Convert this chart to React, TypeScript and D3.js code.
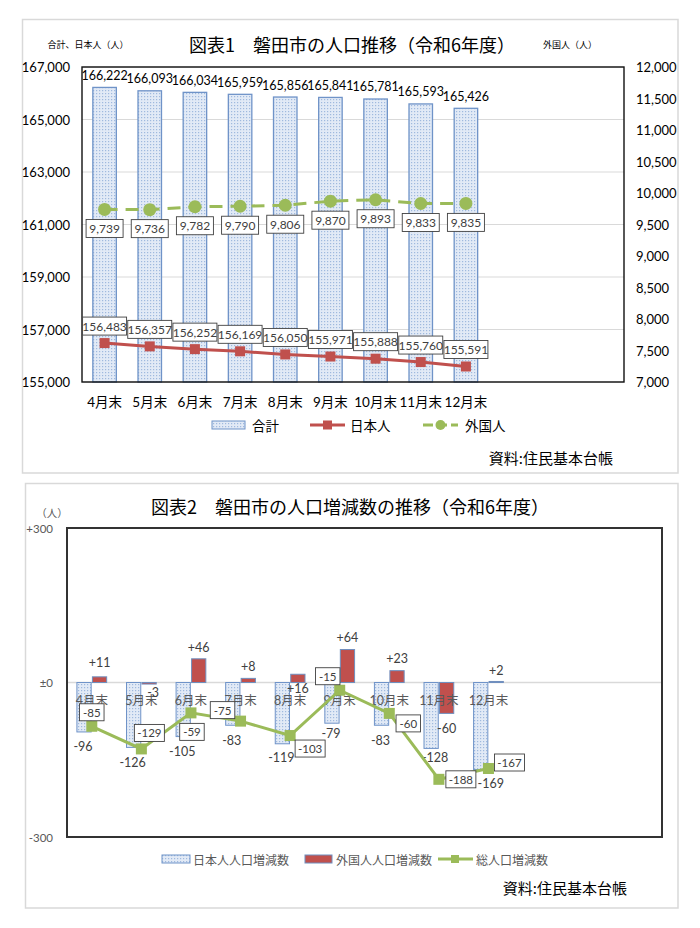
import React from "react";
import * as d3 from "d3";

// ---------- data ----------
const fiscalMonths = ["4月末", "5月末", "6月末", "7月末", "8月末", "9月末", "10月末", "11月末", "12月末", "1月末", "2月末", "3月末"];
const categories = ["4月末", "5月末", "6月末", "7月末", "8月末", "9月末", "10月末", "11月末", "12月末"];

const totalPop = [166222, 166093, 166034, 165959, 165856, 165841, 165781, 165593, 165426];
const japanesePop = [156483, 156357, 156252, 156169, 156050, 155971, 155888, 155760, 155591];
const foreignPop = [9739, 9736, 9782, 9790, 9806, 9870, 9893, 9833, 9835];

const leftTicks = [155000, 157000, 159000, 161000, 163000, 165000, 167000];
const rightTicks = [7000, 7500, 8000, 8500, 9000, 9500, 10000, 10500, 11000, 11500, 12000];

const japaneseChange = [-96, -126, -105, -83, -119, -79, -83, -128, -169];
const foreignChange = [11, -3, 46, 8, 16, 64, 23, -60, 2];
const totalChange = [-85, -129, -59, -75, -103, -15, -60, -188, -167];

const changeTicks = [-300, 0, 300];
const changeTickLabels = ["-300", "±0", "+300"];

// label placement tweaks (layout only)
const totalLabelOffsets = [[0, -14], [8, -16], [1, 19], [-18, -11], [20, 13], [-12, -14], [19, 10], [22, 0], [21, -6]];
const jpLabelOffsets = [[-1, 15], [-1, 15], [-1, 15], [-1, 15], [-1, 14], [-1, 10], [-1, 15], [4, 9], [10, 14]];
const fgLabelOffsets = [[0, -14], [4, 8], [0, -11], [0, -12], [0, 14], [0, -12], [0, -12], [0, 15], [0, -11]];

const FONT = "Lato, 'Noto Sans CJK JP', sans-serif";
const JP = "'Noto Sans CJK JP', sans-serif";
const RED = "#c0504d";
const GREEN = "#9bbb59";
const BLUE = "#4f81bd";
const fmt = d3.format(",");
const sfmt = (v: number) => (v > 0 ? "+" + v : String(v));

function Chart1() {
  const x = d3.scaleBand<string>().domain(fiscalMonths).range([82, 624]).paddingInner(0.48).paddingOuter(0.24);
  const yL = d3.scaleLinear().domain([155000, 167000]).range([382, 67]);
  const yR = d3.scaleLinear().domain([7000, 12000]).range([382, 67]);
  const cx = (c: string) => (x(c) as number) + x.bandwidth() / 2;
  const redLine = d3.line<number>().x((_, i) => cx(categories[i])).y((d) => yL(d));
  const greenLine = d3.line<number>().x((_, i) => cx(categories[i])).y((d) => yR(d));
  return (
    <g>
      <rect x={22.5} y={19.5} width={655.5} height={453.5} fill="#fff" stroke="#d9d9d9" strokeWidth={1.5} />
      <text x={352} y={44} textAnchor="middle" dominantBaseline="central" fontFamily={JP} fontSize={18} fill="#000">
        図表1　磐田市の人口推移（令和6年度）
      </text>
      <text x={88} y={44} textAnchor="middle" dominantBaseline="central" fontFamily={JP} fontSize={9} fill="#000">
        合計、日本人（人）
      </text>
      <text x={570} y={44} textAnchor="middle" dominantBaseline="central" fontFamily={JP} fontSize={9} fill="#000">
        外国人（人）
      </text>
      {leftTicks.map((t) => (
        <line key={"g" + t} x1={82} x2={624} y1={yL(t)} y2={yL(t)} stroke="#d9d9d9" strokeWidth={1.2} />
      ))}
      {leftTicks.map((t) => (
        <text key={"l" + t} x={70} y={yL(t)} textAnchor="end" dominantBaseline="central" fontFamily={FONT} fontSize={13} fill="#000">
          {fmt(t)}
        </text>
      ))}
      {rightTicks.map((t) => (
        <text key={"r" + t} x={636} y={yR(t)} textAnchor="start" dominantBaseline="central" fontFamily={FONT} fontSize={13} fill="#000">
          {fmt(t)}
        </text>
      ))}
      {categories.map((c, i) => (
        <rect key={"b" + c} x={x(c)} y={yL(totalPop[i])} width={x.bandwidth()} height={382 - yL(totalPop[i])}
          fill="url(#dots)" stroke="#6f93c8" strokeWidth={1.3} />
      ))}
      {categories.map((c, i) => (
        <text key={"bl" + c} x={cx(c)} y={yL(totalPop[i]) - 12} textAnchor="middle" dominantBaseline="central" fontFamily={FONT} fontSize={12.5} fill="#000">
          {fmt(totalPop[i])}
        </text>
      ))}
      <rect x={82} y={67} width={542} height={315} fill="none" stroke="#111" strokeWidth={1.4} />
      {/* Japanese line */}
      <path d={redLine(japanesePop) || ""} fill="none" stroke={RED} strokeWidth={3} />
      {categories.map((c, i) => (
        <rect key={"rm" + c} x={cx(c) - 5} y={yL(japanesePop[i]) - 5} width={10} height={10} fill={RED} />
      ))}
      {categories.map((c, i) => (
        <g key={"rl" + c}>
          <rect x={cx(c) - 22} y={yL(japanesePop[i]) - 26} width={44} height={18} fill="#fff" stroke="#404040" strokeWidth={0.9} />
          <text x={cx(c)} y={yL(japanesePop[i]) - 17} textAnchor="middle" dominantBaseline="central" fontFamily={FONT} fontSize={12} fill="#404040">
            {fmt(japanesePop[i])}
          </text>
        </g>
      ))}
      {/* Foreign line */}
      <path d={greenLine(foreignPop) || ""} fill="none" stroke={GREEN} strokeWidth={3} strokeDasharray="13,8" />
      {categories.map((c, i) => (
        <circle key={"gm" + c} cx={cx(c)} cy={yR(foreignPop[i])} r={6.5} fill={GREEN} />
      ))}
      {categories.map((c, i) => (
        <g key={"gl" + c}>
          <rect x={cx(c) - 18.5} y={yR(foreignPop[i]) + 10} width={37} height={18} fill="#fff" stroke="#404040" strokeWidth={0.9} />
          <text x={cx(c)} y={yR(foreignPop[i]) + 19} textAnchor="middle" dominantBaseline="central" fontFamily={FONT} fontSize={12} fill="#404040">
            {fmt(foreignPop[i])}
          </text>
        </g>
      ))}
      {categories.map((c) => (
        <text key={"x" + c} x={cx(c)} y={402} textAnchor="middle" dominantBaseline="central" fontFamily={FONT} fontSize={13.5} fill="#000">
          {c}
        </text>
      ))}
      {/* legend */}
      <rect x={212} y={421} width={33} height={8} fill="url(#dots)" stroke="#6f93c8" strokeWidth={1} />
      <text x={252} y={425} dominantBaseline="central" fontFamily={JP} fontSize={13.5} fill="#000">合計</text>
      <line x1={310} x2={345} y1={425} y2={425} stroke={RED} strokeWidth={3} />
      <rect x={323} y={420.5} width={9} height={9} fill={RED} />
      <text x={350} y={425} dominantBaseline="central" fontFamily={JP} fontSize={13.5} fill="#000">日本人</text>
      <line x1={423} x2={458} y1={425} y2={425} stroke={GREEN} strokeWidth={3} strokeDasharray="10,4" />
      <circle cx={440.5} cy={425} r={5} fill={GREEN} />
      <text x={465} y={425} dominantBaseline="central" fontFamily={JP} fontSize={13.5} fill="#000">外国人</text>
      <text x={613} y={457} textAnchor="end" dominantBaseline="central" fontFamily={JP} fontSize={15} fill="#000">資料:住民基本台帳</text>
    </g>
  );
}

function Chart2() {
  const x = d3.scaleBand<string>().domain(fiscalMonths).range([67, 662]).paddingInner(0.4).paddingOuter(0.2);
  const sub = d3.scaleBand<string>().domain(["jp", "fg"]).range([0, x.bandwidth()]).paddingInner(0.08);
  const y = d3.scaleLinear().domain([-300, 300]).range([837, 528]);
  const cx = (c: string) => (x(c) as number) + x.bandwidth() / 2;
  const line = d3.line<number>().x((_, i) => cx(categories[i])).y((d) => y(d));
  const y0 = y(0);
  const gray = "#595959";
  return (
    <g>
      <rect x={25.5} y={483.5} width={652.5} height={424.5} fill="#fff" stroke="#d9d9d9" strokeWidth={1.5} />
      <text x={350} y={506} textAnchor="middle" dominantBaseline="central" fontFamily={JP} fontSize={18} fill="#000">
        図表2　磐田市の人口増減数の推移（令和6年度）
      </text>
      <text x={52} y={512} textAnchor="middle" dominantBaseline="central" fontFamily={JP} fontSize={10.5} fill={gray}>（人）</text>
      {changeTicks.map((t, i) => (
        <text key={"t" + t} x={53} y={y(t)} textAnchor="end" dominantBaseline="central" fontFamily={FONT} fontSize={11.5} fill={gray}>
          {changeTickLabels[i]}
        </text>
      ))}
      <line x1={67} x2={662} y1={y0} y2={y0} stroke="#d9d9d9" strokeWidth={1.3} />
      {categories.map((c, i) => {
        const v = japaneseChange[i];
        return (
          <rect key={"jb" + c} x={(x(c) as number) + (sub("jp") as number)} y={Math.min(y(v), y0)} width={sub.bandwidth()}
            height={Math.abs(y(v) - y0)} fill="url(#dots)" stroke="#6f93c8" strokeWidth={1} />
        );
      })}
      {categories.map((c, i) => {
        const v = foreignChange[i];
        return (
          <rect key={"fb" + c} x={(x(c) as number) + (sub("fg") as number)} y={Math.min(y(v), y0)} width={sub.bandwidth()}
            height={Math.abs(y(v) - y0)} fill={RED} stroke="#6f8fbf" strokeWidth={1} />
        );
      })}
      {categories.map((c) => (
        <text key={"cx" + c} x={cx(c)} y={700} textAnchor="middle" dominantBaseline="central" fontFamily={FONT} fontSize={12.5} fill={gray}>
          {c}
        </text>
      ))}
      {categories.map((c, i) => {
        const v = japaneseChange[i];
        const bx = (x(c) as number) + (sub("jp") as number) + sub.bandwidth() / 2;
        return (
          <text key={"jl" + c} x={bx + jpLabelOffsets[i][0]} y={y(v) + jpLabelOffsets[i][1]} textAnchor="middle" dominantBaseline="central"
            fontFamily={FONT} fontSize={12.5} fill="#404040">
            {sfmt(v)}
          </text>
        );
      })}
      {categories.map((c, i) => {
        const v = foreignChange[i];
        const bx = (x(c) as number) + (sub("fg") as number) + sub.bandwidth() / 2;
        return (
          <text key={"fl" + c} x={bx + fgLabelOffsets[i][0]} y={y(v) + fgLabelOffsets[i][1]} textAnchor="middle" dominantBaseline="central"
            fontFamily={FONT} fontSize={12.5} fill="#404040">
            {sfmt(v)}
          </text>
        );
      })}
      <path d={line(totalChange) || ""} fill="none" stroke={GREEN} strokeWidth={3} />
      {categories.map((c, i) => (
        <rect key={"tm" + c} x={cx(c) - 5.5} y={y(totalChange[i]) - 5.5} width={11} height={11} fill={GREEN} />
      ))}
      {categories.map((c, i) => {
        const label = sfmt(totalChange[i]);
        const w = label.length * 5.5 + 8;
        const lx = cx(c) + totalLabelOffsets[i][0];
        const ly = y(totalChange[i]) + totalLabelOffsets[i][1];
        return (
          <g key={"tl" + c}>
            <rect x={lx - w / 2} y={ly - 8.5} width={w} height={17} fill="#fff" stroke="#404040" strokeWidth={0.9} />
            <text x={lx} y={ly} textAnchor="middle" dominantBaseline="central" fontFamily={FONT} fontSize={11.5} fill="#404040">
              {label}
            </text>
          </g>
        );
      })}
      <rect x={67} y={528} width={595} height={309} fill="none" stroke="#333" strokeWidth={2} />
      {/* legend */}
      <rect x={162} y={855} width={28} height={8} fill="url(#dots)" stroke="#6f93c8" strokeWidth={1} />
      <text x={193} y={859} dominantBaseline="central" fontFamily={JP} fontSize={12} fill={gray}>日本人人口増減数</text>
      <rect x={305} y={855} width={27} height={8} fill={RED} stroke="#6f8fbf" strokeWidth={1} />
      <text x={336} y={859} dominantBaseline="central" fontFamily={JP} fontSize={12} fill={gray}>外国人人口増減数</text>
      <line x1={438} x2={473} y1={859} y2={859} stroke={GREEN} strokeWidth={3} />
      <rect x={451} y={855} width={8} height={8} fill={GREEN} />
      <text x={476} y={859} dominantBaseline="central" fontFamily={JP} fontSize={12} fill={gray}>総人口増減数</text>
      <text x={627} y={887} textAnchor="end" dominantBaseline="central" fontFamily={JP} fontSize={15} fill="#000">資料:住民基本台帳</text>
    </g>
  );
}

export default function App() {
  return (
    <svg width={700} height={928} style={{ position: "absolute", left: 0, top: 0, background: "#fff" }}>
      <defs>
        <pattern id="dots" width={3} height={3} patternUnits="userSpaceOnUse">
          <rect width={3} height={3} fill="#e2eaf6" />
          <rect width={1.2} height={1.2} fill="#9fb9de" />
        </pattern>
      </defs>
      <rect width={700} height={928} fill="#fff" />
      <Chart1 />
      <Chart2 />
    </svg>
  );
}
